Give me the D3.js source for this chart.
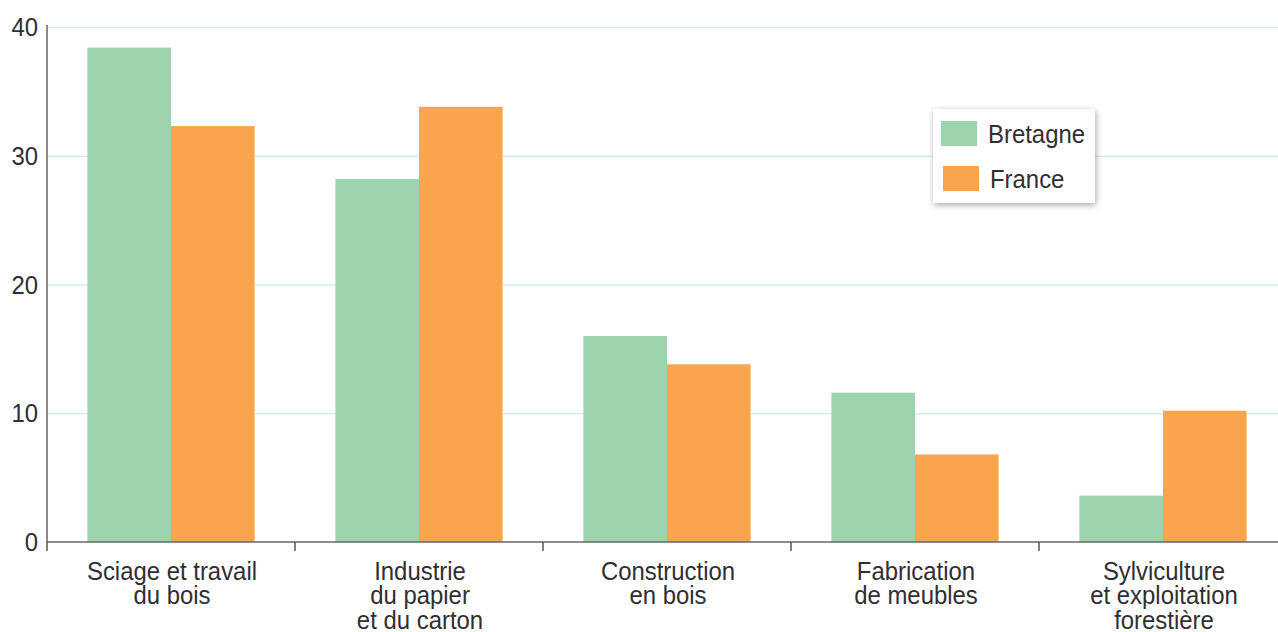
<!DOCTYPE html>
<html>
<head>
<meta charset="utf-8">
<script src="https://cdn.jsdelivr.net/npm/d3@7"></script>
<style>
  html, body { margin: 0; padding: 0; background: #fff; }
  svg { display: block; }
  text { font-family: "Liberation Sans", Arial, sans-serif; fill: #2f2f33; }
</style>
</head>
<body>
<svg id="chart" width="1278" height="632"></svg>
<script>
// Share of wood-sector jobs by activity (%)
const categories = [
  ["Sciage et travail", "du bois"],
  ["Industrie", "du papier", "et du carton"],
  ["Construction", "en bois"],
  ["Fabrication", "de meubles"],
  ["Sylviculture", "et exploitation", "forestière"]
];
const seriesNames = ["Bretagne", "France"];
const bretagne = [38.4, 28.2, 16.0, 11.6, 3.6];
const france = [32.3, 33.8, 13.8, 6.8, 10.2];
const yTicks = [0, 10, 20, 30, 40];
const colors = ["#9dd3ad", "#f9a54b"];

const svg = d3.select("#chart");
const x0 = 47, yBottom = 542, yTop = 27;

const catKeys = categories.map((c, i) => i);
const x = d3.scaleBand().domain(catKeys).range([x0, 1287]).padding(0);
const xs = d3.scaleBand().domain(seriesNames)
  .range([x.bandwidth() * 0.163, x.bandwidth() * 0.837]).padding(0);
const y = d3.scaleLinear().domain([0, 40]).range([yBottom, yTop]);

const sx = 0.92; // horizontal condensing of the text

// gridlines
svg.append("g").selectAll("line")
  .data(yTicks.filter(d => d > 0))
  .join("line")
  .attr("x1", x0).attr("x2", 1278)
  .attr("y1", d => y(d) + 0.5).attr("y2", d => y(d) + 0.5)
  .attr("stroke", "#d5ebf9").attr("stroke-width", 1.5);

// bars
const values = [bretagne, france];
const groups = svg.append("g").selectAll("g")
  .data(catKeys)
  .join("g")
  .attr("transform", d => `translate(${x(d)},0)`);
groups.selectAll("rect")
  .data(i => seriesNames.map((s, k) => ({ s, k, v: values[k][i] })))
  .join("rect")
  .attr("x", d => xs(d.s))
  .attr("width", xs.bandwidth())
  .attr("y", d => y(d.v))
  .attr("height", d => y(0) - y(d.v))
  .attr("fill", d => colors[d.k]);

// y axis
svg.append("line")
  .attr("x1", x0).attr("x2", x0)
  .attr("y1", yTop - 2).attr("y2", yBottom)
  .attr("stroke", "#666").attr("stroke-width", 1.5);
svg.append("g").selectAll("text")
  .data(yTicks)
  .join("text")
  .attr("transform", d => `translate(38,${y(d) + 9}) scale(${sx},1)`)
  .attr("text-anchor", "end")
  .attr("font-size", 26)
  .text(d => d);

// x axis
svg.append("line")
  .attr("x1", x0).attr("x2", 1278)
  .attr("y1", yBottom).attr("y2", yBottom)
  .attr("stroke", "#666").attr("stroke-width", 1.5);
svg.append("g").selectAll("line")
  .data(catKeys)
  .join("line")
  .attr("x1", d => x(d)).attr("x2", d => x(d))
  .attr("y1", yBottom).attr("y2", yBottom + 9)
  .attr("stroke", "#555").attr("stroke-width", 1.5);

// category labels
const labels = svg.append("g").selectAll("text")
  .data(catKeys)
  .join("text")
  .attr("transform", d => `translate(${x(d) + x.bandwidth() / 2 + 1},580) scale(${sx},1)`)
  .attr("text-anchor", "middle")
  .attr("font-size", 26);
labels.selectAll("tspan")
  .data(d => categories[d])
  .join("tspan")
  .attr("x", 0)
  .attr("y", (d, j) => j * 24.5)
  .text(d => d);

// legend
const defs = svg.append("defs");
const f = defs.append("filter").attr("id", "shadow")
  .attr("x", "-20%").attr("y", "-20%").attr("width", "140%").attr("height", "140%");
f.append("feDropShadow").attr("dx", 1).attr("dy", 2).attr("stdDeviation", 3)
  .attr("flood-color", "#000").attr("flood-opacity", 0.35);

const legend = svg.append("g").attr("transform", "translate(933,109)");
legend.append("rect")
  .attr("width", 162).attr("height", 94)
  .attr("fill", "#fff").attr("filter", "url(#shadow)");
const items = legend.selectAll("g.item")
  .data(seriesNames)
  .join("g").attr("class", "item")
  .attr("transform", (d, i) => `translate(${8 + i * 2},${12 + i * 45})`);
items.append("rect")
  .attr("width", 36).attr("height", 25)
  .attr("fill", (d, i) => colors[i]);
items.append("text")
  .attr("transform", `translate(47,22) scale(${sx},1)`)
  .attr("font-size", 26)
  .text(d => d);
</script>
</body>
</html>
